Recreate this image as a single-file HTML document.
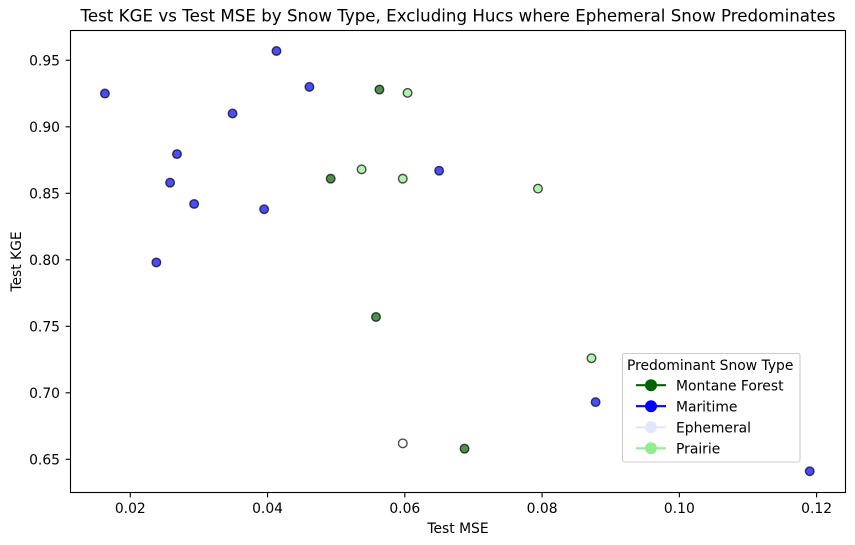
<!DOCTYPE html>
<html>
<head>
<meta charset="utf-8">
<title>Test KGE vs Test MSE</title>
<style>
html,body{margin:0;padding:0;background:#fff;}
svg{display:block;}
text{font-family:"DejaVu Sans","Liberation Sans",sans-serif;font-size:13.89px;fill:#000;}
</style>
</head>
<body>
<svg id="chart" xmlns="http://www.w3.org/2000/svg" width="855" height="545" viewBox="0 0 855 545">
  <rect x="0" y="0" width="855" height="545" fill="#fff"/>
  <text x="458" y="21.5" text-anchor="middle" style="font-size:16.67px" textLength="755" lengthAdjust="spacing">Test KGE vs Test MSE by Snow Type, Excluding Hucs where Ephemeral Snow Predominates</text>
  <g id="ticks"></g>
  <g id="points"></g>
  <rect x="70.5" y="30.5" width="775" height="462" fill="none" stroke="#000" stroke-width="1.1"/>
  <text x="458" y="533" text-anchor="middle">Test MSE</text>
  <text x="21" y="261.5" text-anchor="middle" transform="rotate(-90 21 261.5)">Test KGE</text>
  <g>
    <rect x="622.5" y="353.5" width="177.5" height="108.5" rx="2" ry="2" fill="#fff" fill-opacity="0.8" stroke="#ccc" stroke-width="1.1"/>
    <text x="627" y="370">Predominant Snow Type</text>
    <g>
      <line x1="636" x2="666" y1="385.2" y2="385.2" stroke="#006400" stroke-width="2.08"/>
      <circle cx="651" cy="385.2" r="6" fill="#006400"/>
      <text x="676" y="390.5">Montane Forest</text>
    </g>
    <g>
      <line x1="636" x2="666" y1="406.2" y2="406.2" stroke="#0000ff" stroke-width="2.08"/>
      <circle cx="651" cy="406.2" r="6" fill="#0000ff"/>
      <text x="676" y="411.5">Maritime</text>
    </g>
    <g>
      <line x1="636" x2="666" y1="427.3" y2="427.3" stroke="#e6e6fa" stroke-width="2.08"/>
      <circle cx="651" cy="427.3" r="6" fill="#e6e6fa"/>
      <text x="676" y="432.5">Ephemeral</text>
    </g>
    <g>
      <line x1="636" x2="666" y1="448.3" y2="448.3" stroke="#90ee90" stroke-width="2.08"/>
      <circle cx="651" cy="448.3" r="6" fill="#90ee90"/>
      <text x="676" y="453.5">Prairie</text>
    </g>
  </g>
</svg>
<script>
const xTickValues = [0.02, 0.04, 0.06, 0.08, 0.10, 0.12];
const yTickValues = [0.65, 0.70, 0.75, 0.80, 0.85, 0.90, 0.95];

const maritimeMse = [0.0163, 0.0413, 0.0461, 0.0349, 0.0268, 0.0258, 0.0293, 0.0395, 0.0238, 0.0650, 0.0878, 0.1190];
const maritimeKge = [0.925, 0.957, 0.930, 0.910, 0.8795, 0.858, 0.842, 0.838, 0.798, 0.867, 0.693, 0.641];
const montaneMse = [0.0563, 0.0492, 0.0558, 0.0687];
const montaneKge = [0.928, 0.861, 0.757, 0.658];
const prairieMse = [0.0604, 0.0537, 0.0597, 0.0794, 0.0872];
const prairieKge = [0.9255, 0.868, 0.861, 0.8535, 0.726];
const ephemeralMse = [0.0597];
const ephemeralKge = [0.662];

const SVG_NS = 'http://www.w3.org/2000/svg';
function xScale(v) { return 130.3 + (v - 0.02) * 6863; }
function yScale(v) { return 459.3 - (v - 0.65) * 1330; }

const ticksGroup = document.getElementById('ticks');
xTickValues.forEach(function (v) {
  const px = xScale(v);
  const tick = document.createElementNS(SVG_NS, 'line');
  
  
  tick.setAttribute('x1', px);
  tick.setAttribute('x2', px);
  tick.setAttribute('y1', 492.5);
  tick.setAttribute('y2', 497.4);
  tick.setAttribute('stroke', '#000');
  tick.setAttribute('stroke-width', '1.1');
  ticksGroup.appendChild(tick);
  const label = document.createElementNS(SVG_NS, 'text');
  
  
  label.setAttribute('x', px);
  label.setAttribute('y', 513);
  label.setAttribute('text-anchor', 'middle');
  label.textContent = v.toFixed(2);
  ticksGroup.appendChild(label);
});
yTickValues.forEach(function (v) {
  const py = yScale(v);
  const tick = document.createElementNS(SVG_NS, 'line');
  
  
  tick.setAttribute('x1', 65.6);
  tick.setAttribute('x2', 70.5);
  tick.setAttribute('y1', py);
  tick.setAttribute('y2', py);
  tick.setAttribute('stroke', '#000');
  tick.setAttribute('stroke-width', '1.1');
  ticksGroup.appendChild(tick);
  const label = document.createElementNS(SVG_NS, 'text');
  
  
  label.setAttribute('x', 60);
  label.setAttribute('y', py + 5);
  label.setAttribute('text-anchor', 'end');
  label.textContent = v.toFixed(2);
  ticksGroup.appendChild(label);
});

const pointsGroup = document.getElementById('points');
function drawSeries(xs, ys, color, name) {
  xs.forEach(function (v, i) {
    const dot = document.createElementNS(SVG_NS, 'circle');
    
    
    dot.setAttribute('cx', xScale(v));
    dot.setAttribute('cy', yScale(ys[i]));
    dot.setAttribute('r', 4.3);
    dot.setAttribute('fill', color);
    dot.setAttribute('fill-opacity', '0.7');
    dot.setAttribute('stroke', '#000');
    dot.setAttribute('stroke-opacity', '0.7');
    dot.setAttribute('stroke-width', '1.39');
    pointsGroup.appendChild(dot);
  });
}
drawSeries(maritimeMse, maritimeKge, '#0000ff', 'maritime-point');
drawSeries(montaneMse, montaneKge, '#006400', 'montane-forest-point');
drawSeries(prairieMse, prairieKge, '#90ee90', 'prairie-point');
drawSeries(ephemeralMse, ephemeralKge, '#ffffff', 'ephemeral-point');
</script>
</body>
</html>
